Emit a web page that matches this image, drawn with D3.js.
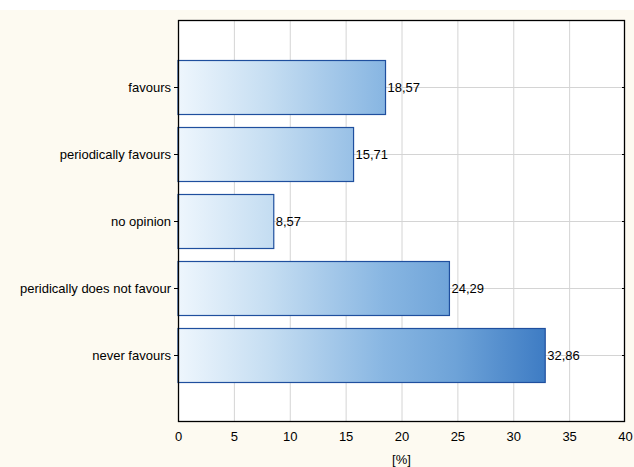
<!DOCTYPE html>
<html><head><meta charset="utf-8">
<script src="https://cdn.jsdelivr.net/npm/d3@7"></script>
<style>body{margin:0;background:#fff}svg{display:block}</style>
</head><body>
<script>
const categories = ["favours","periodically favours","no opinion","peridically does not favour","never favours"];
const values = [18.57, 15.71, 8.57, 24.29, 32.86];
const valueLabels = ["18,57","15,71","8,57","24,29","32,86"];
const xTicks = [0,5,10,15,20,25,30,35,40];
const xTitle = "[%]";

const W = 634, H = 467, FS = 13;
const FF = "'Liberation Sans', Arial, sans-serif";
const m = {left:178, right:9, top:20, bottom:45};
const svg = d3.select("body").append("svg").attr("width",W).attr("height",H)
  .style("font-family",FF);
svg.append("rect").attr("x",0).attr("y",10).attr("width",W).attr("height",H-10).attr("fill","#fdfaf1");

const x = d3.scaleLinear().domain([0,40]).range([m.left, W-m.right]);
const y = d3.scalePoint().domain(categories).range([m.top, H-m.bottom]).padding(1);
const bh = y.step()*0.81;

const defs = svg.append("defs");
const g = defs.append("linearGradient").attr("id","bg").attr("gradientUnits","userSpaceOnUse")
  .attr("x1",x(0)).attr("x2",x(40)).attr("y1",0).attr("y2",0);
[[0,"#eef6fd"],[0.2,"#c6def2"],[0.46,"#88b6e2"],[0.62,"#6ea3d8"],[0.82,"#3e7cc4"],[1,"#2a66b6"]]
  .forEach(s=>g.append("stop").attr("offset",s[0]).attr("stop-color",s[1]));

svg.append("rect").attr("x",x(0)).attr("y",m.top).attr("width",x(40)-x(0)).attr("height",H-m.bottom-m.top).attr("fill","#fff");

// grid
svg.append("g").selectAll("line").data(xTicks.slice(1,-1)).join("line")
  .attr("x1",d=>x(d)+0.5).attr("x2",d=>x(d)+0.5).attr("y1",m.top).attr("y2",H-m.bottom)
  .attr("stroke","#d4d4d4");
svg.append("g").selectAll("line").data(categories).join("line")
  .attr("x1",x(0)).attr("x2",x(40)).attr("y1",d=>Math.round(y(d))+0.5).attr("y2",d=>Math.round(y(d))+0.5)
  .attr("stroke","#d4d4d4");

// bars
svg.append("g").selectAll("rect").data(values).join("rect")
  .attr("x",x(0)).attr("y",(d,i)=>Math.round(y(categories[i])-bh/2)+0.5)
  .attr("width",d=>x(d)-x(0)).attr("height",Math.round(bh))
  .attr("fill","url(#bg)").attr("stroke","#1f4f9e").attr("stroke-width",1.2);

svg.append("g").selectAll("text").data(values).join("text")
  .attr("x",d=>x(d)+2).attr("y",(d,i)=>y(categories[i])+4.5)
  .attr("font-size",FS).attr("fill","#000").text((d,i)=>valueLabels[i]);

// frame
svg.append("rect").attr("x",x(0)+0.5).attr("y",m.top+0.5).attr("width",x(40)-x(0)-1).attr("height",H-m.bottom-m.top-1)
  .attr("fill","none").attr("stroke","#000").attr("stroke-width",1.3);

// axes
const xa = svg.append("g").attr("transform",`translate(0,${H-m.bottom})`)
  .call(d3.axisBottom(x).tickValues(xTicks).tickSize(0).tickPadding(10).tickFormat(d3.format("d")));
xa.select(".domain").remove();
xa.selectAll("text").attr("font-size",FS).attr("fill","#000").style("font-family",FF);

const ya = svg.append("g").attr("transform",`translate(${m.left},0)`)
  .call(d3.axisLeft(y).tickSize(4).tickPadding(3));
ya.select(".domain").remove();
ya.selectAll("line").attr("stroke","#000");
ya.selectAll("text").attr("font-size",FS).attr("fill","#000").style("font-family",FF);

svg.append("g").selectAll("line").data(categories).join("line")
  .attr("x1",x(40)-3).attr("x2",x(40)).attr("y1",d=>Math.round(y(d))+0.5).attr("y2",d=>Math.round(y(d))+0.5)
  .attr("stroke","#000");

svg.append("text").attr("x",(x(0)+x(40))/2).attr("y",H-3).attr("text-anchor","middle")
  .attr("font-size",FS).text(xTitle);
</script>
</body></html>
